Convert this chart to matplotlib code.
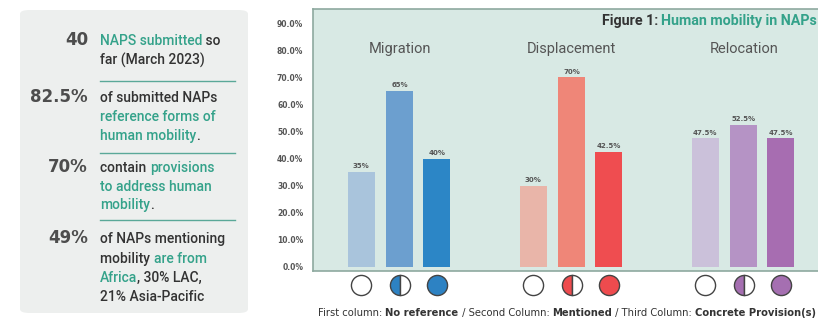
import matplotlib.pyplot as plt
from matplotlib.patches import FancyBboxPatch
from matplotlib.transforms import blended_transform_factory

plt.rcParams['font.family'] = ['Roboto', 'DejaVu Sans']

# Chart data
groups = ["Migration", "Displacement", "Relocation"]
migration = [35, 65, 40]
displacement = [30, 70, 42.5]
relocation = [47.5, 52.5, 47.5]
value_labels = [["35%", "65%", "40%"], ["30%", "70%", "42.5%"], ["47.5%", "52.5%", "47.5%"]]
yticks = [0, 10, 20, 30, 40, 50, 60, 70, 80, 90]

bar_colors = [["#a9c4dc", "#6c9fcf", "#2c86c6"],
              ["#e9b5a9", "#ef8678", "#ef4d50"],
              ["#cbc1da", "#b593c5", "#a76db1"]]
circle_colors = ["#2d82c3", "#ee4b4e", "#a56fb1"]

TEAL = "#34a28a"
DARK = "#333333"
GRAY = "#555555"

W, H = 818, 324
fig = plt.figure(figsize=(W / 100, H / 100), dpi=100)


def fx(px):
    return px / W


def fy(py):
    return 1 - py / H


renderer = fig.canvas.get_renderer()


def seg_line(x, y, segs, size, ha="left", family=None):
    # draw a line of text made of coloured pieces, x/y in pixels (baseline)
    kw = {} if family is None else {"family": family}
    order = reversed(segs) if ha == "right" else segs
    for txt, col, wt in order:
        t = fig.text(fx(x), fy(y), txt, color=col, fontsize=size,
                     fontweight=wt, ha=ha, va="baseline", **kw)
        w = t.get_window_extent(renderer).width
        x = x - w if ha == "right" else x + w


# ---- left info panel
box = FancyBboxPatch((fx(20), fy(313)), fx(228), 303 / H,
                     boxstyle="round,pad=0,rounding_size=0.012",
                     transform=fig.transFigure, facecolor="#edefee",
                     edgecolor="none", zorder=0)
fig.patches.append(box)

big = [("40", 45), ("82.5%", 102), ("70%", 172), ("49%", 243)]
for s, yb in big:
    fig.text(fx(88), fy(yb), s, fontsize=12, fontweight="bold", color="#4d4d4d",
             ha="right", va="baseline", family="DejaVu Sans")

n = "medium"
body = [
    (45, [("NAPS submitted", TEAL, n), (" so", DARK, n)]),
    (65, [("far (March 2023)", DARK, n)]),
    (102, [("of submitted NAPs", DARK, n)]),
    (121, [("reference forms of", TEAL, n)]),
    (140, [("human mobility", TEAL, n), (".", DARK, n)]),
    (172, [("contain ", DARK, n), ("provisions", TEAL, n)]),
    (191, [("to address human", TEAL, n)]),
    (209, [("mobility", TEAL, n), (".", DARK, n)]),
    (243, [("of NAPs mentioning", DARK, n)]),
    (263, [("mobility ", DARK, n), ("are from", TEAL, n)]),
    (282, [("Africa", TEAL, n), (", 30% LAC,", DARK, n)]),
    (301, [("21% Asia-Pacific", DARK, n)]),
]
for yb, segs in body:
    seg_line(100, yb, segs, 10)

for yl in [81, 153, 220]:
    fig.add_artist(plt.Line2D([fx(100), fx(235)], [fy(yl), fy(yl)],
                              color="#5aa898", lw=1, transform=fig.transFigure))

# ---- bar chart
ax = fig.add_axes([fx(313), fy(271), fx(820 - 313), 262 / H])
ax.set_facecolor("#d8e9e4")
for sp in ax.spines.values():
    sp.set_color("#8ea99f")
    sp.set_linewidth(1.2)
ax.spines["right"].set_visible(False)

offsets = [-0.225, 0, 0.215]
width = 0.157
series = [migration, displacement, relocation]
trans = blended_transform_factory(ax.transData, ax.transAxes)

for g, vals in enumerate(series):
    for k, v in enumerate(vals):
        xpos = g + offsets[k]
        ax.bar(xpos, v, width=width, color=bar_colors[g][k], zorder=2)
        ax.text(xpos, v + 1.0, value_labels[g][k], ha="center", va="bottom",
                fontsize=5, fontweight="bold", color=GRAY, family="DejaVu Sans")
    ax.text(g, 80.5, groups[g], ha="center", va="center", fontsize=10.5,
            color=GRAY)
    # marker row below the axis
    c = circle_colors[g]
    ax.plot(g + offsets[0], -0.053, "o", ms=14.5, mfc="white", mec="#444444",
            mew=1, transform=trans, clip_on=False)
    ax.plot(g + offsets[1], -0.053, "o", ms=14.5, fillstyle="left", mfc=c,
            mfcalt="white", mec="#444444", mew=1, transform=trans, clip_on=False)
    ax.plot(g + offsets[2], -0.053, "o", ms=14.5, mfc=c, mec="#444444",
            mew=1, transform=trans, clip_on=False)

ax.set_xlim(-0.505, 2.443)
ax.set_ylim(-1.5, 95.2)
ax.set_xticks([])
ax.set_yticks(yticks)
ax.set_yticklabels([f"{t:.1f}%" for t in yticks], fontsize=5.5,
                   fontweight="bold", color=GRAY, family="DejaVu Sans")
ax.tick_params(axis="y", length=0, pad=7)

# figure title, right aligned
seg_line(817, 25, [("Figure 1: ", DARK, "bold"),
                   ("Human mobility in NAPs", TEAL, "bold")], 10.3, ha="right")

# caption
b = "bold"
seg_line(318, 316, [("First column: ", DARK, n), ("No reference", DARK, b),
                    (" / Second Column: ", DARK, n), ("Mentioned", DARK, b),
                    (" / Third Column: ", DARK, n),
                    ("Concrete Provision(s)", DARK, b)], 7.2, family="DejaVu Sans")

fig.savefig("out.png", dpi=100)
